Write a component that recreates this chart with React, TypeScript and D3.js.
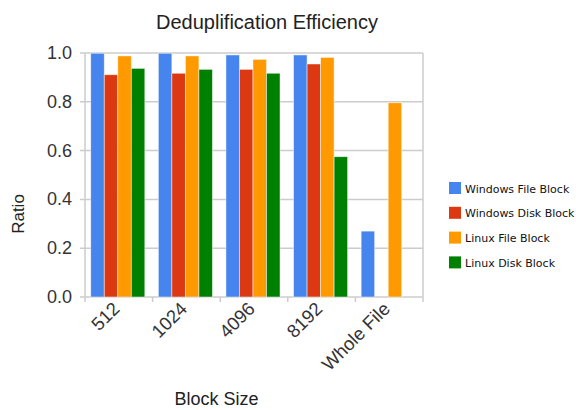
import React from "react";
import * as d3 from "d3";

const categories = ["512", "1024", "4096", "8192", "Whole File"];
const seriesNames = ["Windows File Block", "Windows Disk Block", "Linux File Block", "Linux Disk Block"];
const seriesColors = ["#4684ee", "#dc3912", "#ff9900", "#008000"];
const windowsFile = [0.999, 0.999, 0.992, 0.992, 0.27];
const windowsDisk = [0.911, 0.917, 0.933, 0.955, null];
const linuxFile = [0.988, 0.988, 0.974, 0.982, 0.796];
const linuxDisk = [0.937, 0.933, 0.917, 0.575, null];
const yTicks = [0, 0.2, 0.4, 0.6, 0.8, 1.0];

const series = [windowsFile, windowsDisk, linuxFile, linuxDisk];

const W = 576, H = 410;
const left = 85, right = 423, top = 53, bottom = 297;

export default function App() {
  const x0 = d3.scaleBand<string>().domain(categories).range([left, right]).padding(0);
  const bw = x0.bandwidth();
  const x1 = d3.scaleBand<number>().domain(d3.range(series.length)).range([bw * 0.085, bw * 0.885]).padding(0);
  const y = d3.scaleLinear().domain([0, 1]).range([bottom, top]);
  const fmt = d3.format(".1f");
  const font = "'Liberation Sans', Arial, sans-serif";

  return (
    <svg width={W} height={H} style={{ position: "absolute", left: 0, top: 0 }}>
      <rect x={0} y={0} width={W} height={H} fill="#fff" />
      <text x={267} y={29} textAnchor="middle" fontFamily={font} fontSize={20} fill="#222">
        Deduplification Efficiency
      </text>
      {/* gridlines */}
      {yTicks.map((t) => (
        <line key={t} x1={left - 5} x2={right} y1={y(t)} y2={y(t)} stroke="#ccc" strokeWidth={1.5} />
      ))}
      <line x1={right} x2={right} y1={top} y2={bottom} stroke="#ccc" strokeWidth={1.5} />
      <line x1={left} x2={left} y1={top} y2={bottom} stroke="#ccc" strokeWidth={1.5} />
      {/* category ticks */}
      {categories.map((c) => (
        <line key={c} x1={x0(c)!} x2={x0(c)!} y1={bottom} y2={bottom + 5} stroke="#ccc" strokeWidth={1.5} />
      ))}
      <line x1={right} x2={right} y1={bottom} y2={bottom + 5} stroke="#ccc" strokeWidth={1.5} />
      {/* bars */}
      {categories.map((c, ci) =>
        series.map((s, si) => {
          const v = s[ci];
          if (v == null) return null;
          const bx = x0(c)! + x1(si)!;
          return (
            <rect
              key={c + si}
              x={bx}
              y={y(v)}
              width={x1.bandwidth()}
              height={y(0) - y(v)}
              fill={seriesColors[si]}
              stroke="#fff"
              strokeOpacity={0.6}
              strokeWidth={0.8}
            />
          );
        })
      )}
      {/* y tick labels */}
      {yTicks.map((t) => (
        <text key={t} x={72} y={y(t) + 6} textAnchor="end" fontFamily={font} fontSize={18} fill="#333">
          {fmt(t)}
        </text>
      ))}
      {/* x labels */}
      {categories.map((c) => {
        const cx = x0(c)! + bw / 2 + 2;
        const cy = bottom + 13;
        return (
          <text
            key={c}
            transform={`translate(${cx},${cy}) rotate(-45)`}
            textAnchor="end"
            fontFamily={font}
            fontSize={18.5}
            fill="#333"
          >
            {c}
          </text>
        );
      })}
      <text x={216.5} y={405} textAnchor="middle" fontFamily={font} fontSize={18} fill="#222">
        Block Size
      </text>
      <text transform="translate(24,214) rotate(-90)" textAnchor="middle" fontFamily={font} fontSize={17} fill="#222">
        Ratio
      </text>
      {/* legend */}
      {seriesNames.map((n, i) => (
        <g key={n} transform={`translate(449,${182 + i * 24.8})`}>
          <rect x={0} y={0} width={12} height={12} fill={seriesColors[i]} />
          <text x={16} y={10.5} fontFamily="'DejaVu Sans', sans-serif" fontSize={11} fill="#111">
            {n}
          </text>
        </g>
      ))}
    </svg>
  );
}
